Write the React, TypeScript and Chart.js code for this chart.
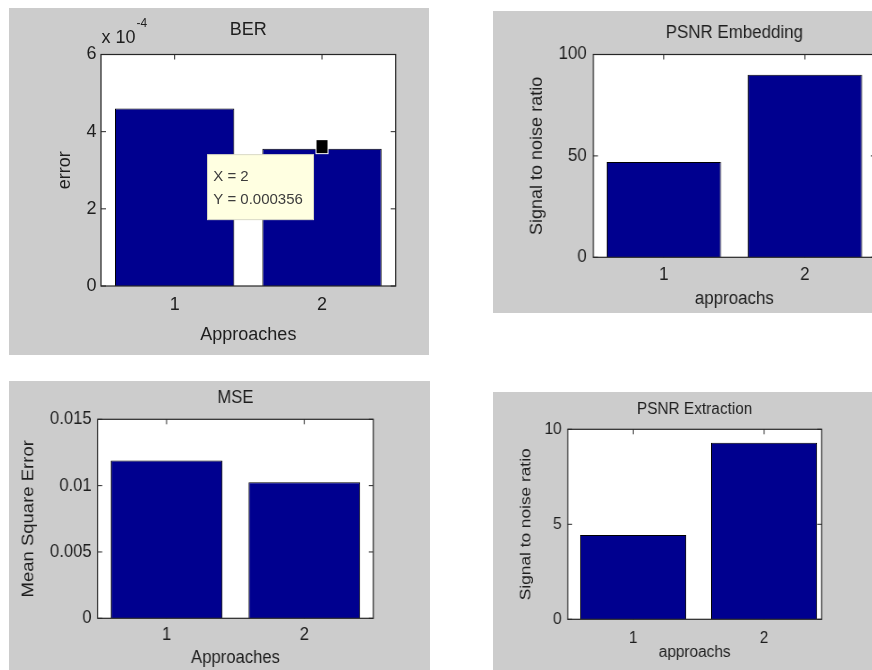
import React, { useEffect, useRef } from 'react';
import { Chart, registerables } from 'chart.js';

Chart.register(...registerables);

// ---------------- data ----------------
const xCategories = [1, 2];
const xTickLabels = ['1', '2'];

const berValues = [4.6e-4, 3.56e-4];
const berYTicks = [0, 2e-4, 4e-4, 6e-4];
const berYTickLabels = ['0', '2', '4', '6'];
const berXRange = [0.5, 2.5];
const berExponentBase = 'x 10';
const berExponent = '-4';
const berTipIndex = 1;

const embValues = [47, 90];
const embYTicks = [0, 50, 100];
const embYTickLabels = ['0', '50', '100'];
const embXRange = [0.5, 2.5];

const mseValues = [0.0119, 0.01025];
const mseYTicks = [0, 0.005, 0.01, 0.015];
const mseYTickLabels = ['0', '0.005', '0.01', '0.015'];
const mseXRange = [0.5, 2.5];

const extValues = [4.44, 9.29];
const extYTicks = [0, 5, 10];
const extYTickLabels = ['0', '5', '10'];
const extXRange = [0.5, 2.44];

// ---------------- style ----------------
const FONT = "'Liberation Sans', Arial, Helvetica, sans-serif";
const TEXT = '#1e1e1e';
const BAR = '#00008f';
const FIG_BG = '#cccccc';
const AXIS = '#262626';

type PanelCfg = {
  id: string;
  title: string;
  xTitle: string;
  yTitle: string;
  values: number[];
  yTicks: number[];
  yTickLabels: string[];
  xRange: number[];
  x0: number; y0: number; w: number; h: number; sx: number; fs: number;
  L: number; T: number; R: number; B: number;
  titleCY: number; yTitleCX: number; xTitleCY: number; yTickGap: number; xTickCY: number;
  exponent?: boolean;
  tip?: boolean;
};

const panels: PanelCfg[] = [
  {
    id: 'ber', title: 'BER', xTitle: 'Approaches', yTitle: 'error',
    values: berValues, yTicks: berYTicks, yTickLabels: berYTickLabels, xRange: berXRange,
    x0: 9, y0: 8, w: 420, h: 347, sx: 1, fs: 18,
    L: 101, T: 54.5, R: 395.7, B: 286,
    titleCY: 29.8, yTitleCX: 65.5, xTitleCY: 335, yTickGap: 4.5, xTickCY: 304.7,
    exponent: true, tip: true,
  },
  {
    id: 'emb', title: 'PSNR Embedding', xTitle: 'approachs', yTitle: 'Signal to noise ratio',
    values: embValues, yTicks: embYTicks, yTickLabels: embYTickLabels, xRange: embXRange,
    x0: 493, y0: 11, w: 400, h: 302, sx: 0.94, fs: 18,
    L: 593.3, T: 54.5, R: 875.5, B: 257.3,
    titleCY: 32.7, yTitleCX: 537.5, xTitleCY: 299, yTickGap: 6.6, xTickCY: 274.7,
  },
  {
    id: 'mse', title: 'MSE', xTitle: 'Approaches', yTitle: 'Mean Square Error',
    values: mseValues, yTicks: mseYTicks, yTickLabels: mseYTickLabels, xRange: mseXRange,
    x0: 9, y0: 381, w: 421, h: 289, sx: 0.9, fs: 18.5,
    L: 97.7, T: 419.3, R: 373.3, B: 618.3,
    titleCY: 397.5, yTitleCX: 29, xTitleCY: 658, yTickGap: 6, xTickCY: 635,
  },
  {
    id: 'ext', title: 'PSNR Extraction', xTitle: 'approachs', yTitle: 'Signal to noise ratio',
    values: extValues, yTicks: extYTicks, yTickLabels: extYTickLabels, xRange: extXRange,
    x0: 493, y0: 392, w: 379, h: 278, sx: 0.89, fs: 17.3,
    L: 567.7, T: 429.3, R: 821.7, B: 619.3,
    titleCY: 409, yTitleCX: 525.8, xTitleCY: 652.7, yTickGap: 6, xTickCY: 637.9,
  },
];

function axesPlugin(p: PanelCfg) {
  return {
    id: 'matlabAxes_' + p.id,
    beforeDraw(chart: any) {
      const { ctx, chartArea: a } = chart;
      ctx.save();
      ctx.fillStyle = '#ffffff';
      ctx.fillRect(a.left, a.top, a.right - a.left, a.bottom - a.top);
      ctx.restore();
    },
    beforeDatasetsDraw(chart: any) {
      const { ctx, chartArea: a, scales } = chart;
      const tl = 5;
      ctx.save();
      ctx.strokeStyle = AXIS;
      ctx.lineWidth = 1;
      ctx.beginPath();
      p.yTicks.forEach((v) => {
        const y = scales.y.getPixelForValue(v);
        ctx.moveTo(a.left, y); ctx.lineTo(a.left + tl, y);
        ctx.moveTo(a.right, y); ctx.lineTo(a.right - tl, y);
      });
      xCategories.forEach((v) => {
        const x = scales.x.getPixelForValue(v);
        ctx.moveTo(x, a.top); ctx.lineTo(x, a.top + tl);
        ctx.moveTo(x, a.bottom); ctx.lineTo(x, a.bottom - tl);
      });
      ctx.stroke();
      ctx.restore();
    },
    afterDatasetsDraw(chart: any) {
      const { ctx, chartArea: a } = chart;
      ctx.save();
      ctx.strokeStyle = AXIS;
      ctx.lineWidth = 1.2;
      ctx.strokeRect(a.left, a.top, a.right - a.left, a.bottom - a.top);
      ctx.restore();
    },
    afterDraw(chart: any) {
      const { ctx, chartArea: a, scales } = chart;
      if (p.exponent) {
        ctx.save();
        ctx.fillStyle = TEXT;
        ctx.textAlign = 'left';
        ctx.textBaseline = 'alphabetic';
        ctx.font = `${p.fs}px ${FONT}`;
        const bx = a.left + 0.5;
        const by = a.top - 11.5;
        ctx.fillText(berExponentBase, bx, by);
        const wBase = ctx.measureText(berExponentBase).width;
        ctx.font = `12px ${FONT}`;
        ctx.fillText(berExponent, bx + wBase + 1, by - 16);
        ctx.restore();
      }
      if (p.tip) {
        const px = scales.x.getPixelForValue(xCategories[berTipIndex]);
        const py = scales.y.getPixelForValue(p.values[berTipIndex]);
        ctx.save();
        const bxl = px - 114.5, bxt = py + 6, bw = 106, bh = 65;
        ctx.fillStyle = '#ffffe1';
        ctx.fillRect(bxl, bxt, bw, bh);
        ctx.strokeStyle = '#d9d9c6';
        ctx.lineWidth = 1;
        ctx.strokeRect(bxl, bxt, bw, bh);
        ctx.fillStyle = '#3c3c3c';
        ctx.font = `15px ${FONT}`;
        ctx.textAlign = 'left';
        ctx.textBaseline = 'middle';
        ctx.fillText(`X = ${xCategories[berTipIndex]}`, px - 108.8, py + 28);
        ctx.fillText(`Y = ${p.values[berTipIndex]}`, px - 108.8, py + 51);
        ctx.fillStyle = '#000000';
        ctx.strokeStyle = '#ffffff';
        ctx.lineWidth = 2;
        ctx.strokeRect(px - 5.5, py - 8.5, 11, 13);
        ctx.fillRect(px - 5.5, py - 8.5, 11, 13);
        ctx.restore();
      }
    },
  };
}

function Panel({ p }: { p: PanelCfg }) {
  const ref = useRef<HTMLCanvasElement | null>(null);
  const Wl = Math.round(p.w / p.sx);

  useEffect(() => {
    const canvas = ref.current;
    if (!canvas) return;
    const sx = p.sx;
    const Ll = (p.L - p.x0) / sx;
    const Rl = (p.R - p.x0) / sx;
    const Tl = p.T - p.y0;
    const Bl = p.B - p.y0;
    const lh = p.fs * 1.2;
    const font = { family: FONT, size: p.fs, lineHeight: 1.2, weight: 'normal' as const };
    const titlePadTop = p.titleCY - p.y0 - lh / 2;
    const titlePadBottom = Tl - lh - titlePadTop;
    const yTitlePad = (p.yTitleCX - p.x0) / sx - lh / 2;
    const xTitlePad = p.y0 + p.h - p.xTitleCY - lh / 2;
    const yTickPad = p.yTickGap / sx;
    const xTickPad = p.xTickCY - p.B - lh / 2;

    const chart = new Chart(canvas, {
      type: 'bar',
      data: {
        datasets: [
          {
            data: xCategories.map((c, i) => ({ x: c, y: p.values[i] })),
            backgroundColor: BAR,
            borderColor: '#000000',
            borderWidth: 1,
            categoryPercentage: 1,
            barPercentage: 0.81,
          } as any,
        ],
      },
      options: {
        responsive: false,
        animation: false,
        events: [],
        layout: { padding: { left: 0, top: 0, right: Wl - Rl, bottom: 0 } },
        plugins: {
          legend: { display: false },
          tooltip: { enabled: false },
          title: {
            display: true,
            text: p.title,
            color: TEXT,
            font,
            fullSize: false,
            padding: { top: titlePadTop, bottom: titlePadBottom },
          },
        },
        scales: {
          x: {
            type: 'linear',
            min: p.xRange[0],
            max: p.xRange[1],
            offset: false,
            grid: { display: false, drawTicks: false },
            border: { display: false },
            afterBuildTicks: (s: any) => {
              s.ticks = xCategories.map((v) => ({ value: v }));
            },
            afterFit: (s: any) => {
              s.height = p.h - Bl;
            },
            ticks: {
              color: TEXT,
              font,
              padding: xTickPad,
              maxRotation: 0,
              minRotation: 0,
              autoSkip: false,
              callback: (_v: any, i: number) => xTickLabels[i],
            },
            title: {
              display: true,
              text: p.xTitle,
              color: TEXT,
              font,
              padding: { top: 0, bottom: xTitlePad },
            },
          },
          y: {
            type: 'linear',
            min: p.yTicks[0],
            max: p.yTicks[p.yTicks.length - 1],
            grid: { display: false, drawTicks: false },
            border: { display: false },
            afterBuildTicks: (s: any) => {
              s.ticks = p.yTicks.map((v) => ({ value: v }));
            },
            afterFit: (s: any) => {
              s.width = Ll;
            },
            ticks: {
              color: TEXT,
              font,
              padding: yTickPad,
              autoSkip: false,
              callback: (_v: any, i: number) => p.yTickLabels[i],
            },
            title: {
              display: true,
              text: p.yTitle,
              color: TEXT,
              font,
              padding: { top: yTitlePad, bottom: 0 },
            },
          },
        },
      } as any,
      plugins: [axesPlugin(p)],
    });
    return () => chart.destroy();
  }, [p, Wl]);

  return (
    <canvas
      ref={ref}
      width={Wl}
      height={p.h}
      style={{
        position: 'absolute',
        left: p.x0,
        top: p.y0,
        width: Wl,
        height: p.h,
        transform: `scaleX(${p.sx})`,
        transformOrigin: '0 0',
        background: FIG_BG,
      }}
    />
  );
}

export default function App() {
  return (
    <div
      style={{
        position: 'absolute',
        left: 0,
        top: 0,
        width: 872,
        height: 670,
        overflow: 'hidden',
        background: '#ffffff',
      }}
    >
      {panels.map((p) => (
        <Panel key={p.id} p={p} />
      ))}
    </div>
  );
}
